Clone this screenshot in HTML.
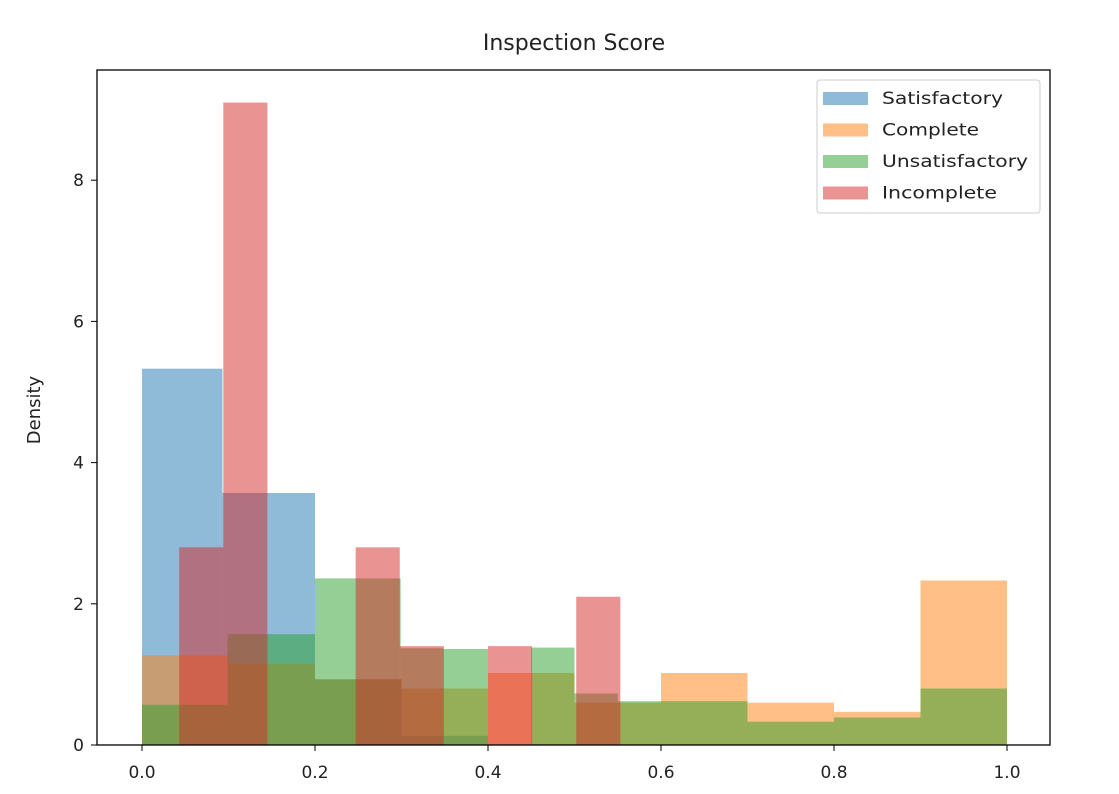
<!DOCTYPE html>
<html><head><meta charset="utf-8"><style>body{margin:0;background:#fff}svg{display:block;font-family:"DejaVu Sans","Liberation Sans",sans-serif}</style></head>
<body>
<svg id="chart" width="1119" height="794" xmlns="http://www.w3.org/2000/svg">
<text x="574" y="50" font-size="22" text-anchor="middle" fill="#222">Inspection Score</text>
<text transform="translate(40,410) rotate(-90)" font-size="18" text-anchor="middle" fill="#222">Density</text>
<g id="bars"></g>
<rect x="97" y="70" width="953" height="675" fill="none" stroke="#000" stroke-width="1.3"/>
<g id="ticks"></g>
<g>
<rect x="817" y="80" width="223" height="133" rx="3" fill="#fff" fill-opacity="0.8" stroke="#ccc"/>
<g id="legend"></g>
</g>
</svg>
<script>
const seriesNames=["Satisfactory","Complete","Unsatisfactory","Incomplete"];
const colors=["#1f77b4","#ff7f0e","#2ca02c","#d62728"];
const satEdges=[0,0.093,0.2,0.3,0.4];
const satVals=[5.33,3.57,0.93,0.13];
const compEdges=[0,0.1,0.2,0.3,0.4,0.5,0.6,0.7,0.8,0.9,1.0];
const compVals=[1.27,1.15,0.93,0.8,1.02,0.6,1.02,0.6,0.47,2.33];
const unsEdges=[0,0.043,0.099,0.2,0.299,0.348,0.4,0.45,0.5,0.55,0.7,0.8,0.9,1.0];
const unsVals=[0.57,0.57,1.57,2.36,1.37,1.36,0,1.38,0.73,0.62,0.33,0.39,0.8];
const incEdges=[0.043,0.094,0.145,0.196,0.247,0.298,0.349,0.4,0.451,0.502,0.553];
const incVals=[2.8,9.1,0,0,2.8,1.4,0,1.4,0,2.1];
const xTicks=[0,0.2,0.4,0.6,0.8,1.0];
const xTickLabels=["0.0","0.2","0.4","0.6","0.8","1.0"];
const yTicks=[0,2,4,6,8];
const yTickLabels=["0","2","4","6","8"];
const legendWidths=[121,97,146,115];
const NS="http://www.w3.org/2000/svg";
const xs=v=>142+v*865;
const ys=v=>745-v*70.6;
const bars=document.getElementById('bars');
const all=[[satEdges,satVals],[compEdges,compVals],[unsEdges,unsVals],[incEdges,incVals]];
all.forEach(([e,v],s)=>{
  v.forEach((h,i)=>{
    if(h<=0)return;
    const r=document.createElementNS(NS,'rect');
    
    
    r.setAttribute('x',xs(e[i]));r.setAttribute('width',xs(e[i+1])-xs(e[i]));
    r.setAttribute('y',ys(h));r.setAttribute('height',ys(0)-ys(h));
    r.setAttribute('fill',colors[s]);r.setAttribute('fill-opacity','0.5');
    bars.appendChild(r);
  });
});
const tk=document.getElementById('ticks');
xTicks.forEach((t,i)=>{
  const l=document.createElementNS(NS,'line');
  
  
  l.setAttribute('x1',xs(t));l.setAttribute('x2',xs(t));l.setAttribute('y1',745);l.setAttribute('y2',751);l.setAttribute('stroke','#000');
  tk.appendChild(l);
  const tx=document.createElementNS(NS,'text');
  
  
  tx.setAttribute('x',xs(t));tx.setAttribute('y',778);tx.setAttribute('font-size','17');tx.setAttribute('text-anchor','middle');tx.setAttribute('fill','#222');
  tx.textContent=xTickLabels[i];tk.appendChild(tx);
});
yTicks.forEach((t,i)=>{
  const l=document.createElementNS(NS,'line');
  
  
  l.setAttribute('x1',91);l.setAttribute('x2',97);l.setAttribute('y1',ys(t));l.setAttribute('y2',ys(t));l.setAttribute('stroke','#000');
  tk.appendChild(l);
  const tx=document.createElementNS(NS,'text');
  
  
  tx.setAttribute('x',84);tx.setAttribute('y',ys(t)+6);tx.setAttribute('font-size','17');tx.setAttribute('text-anchor','end');tx.setAttribute('fill','#222');
  tx.textContent=yTickLabels[i];tk.appendChild(tx);
});
const lg=document.getElementById('legend');
seriesNames.forEach((n,i)=>{
  const y=92+i*31.5;
  const r=document.createElementNS(NS,'rect');
  
  
  r.setAttribute('x',823);r.setAttribute('y',y);r.setAttribute('width',45);r.setAttribute('height',13);
  r.setAttribute('fill',colors[i]);r.setAttribute('fill-opacity','0.5');lg.appendChild(r);
  const t=document.createElementNS(NS,'text');
  
  
  t.setAttribute('x',882);t.setAttribute('y',y+12);t.setAttribute('font-size','17');t.setAttribute('fill','#222');
  t.setAttribute('textLength',legendWidths[i]);t.setAttribute('lengthAdjust','spacingAndGlyphs');
  t.textContent=n;lg.appendChild(t);
});
</script>
</body></html>
